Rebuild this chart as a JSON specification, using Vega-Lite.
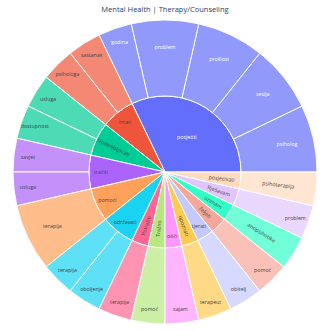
{
  "$schema": "https://vega.github.io/schema/vega-lite/v6.json",
  "width": 330,
  "height": 304,
  "autosize": {"type": "none"},
  "padding": {"left": 0, "right": 0, "top": 20, "bottom": 0},
  "background": "white",
  "config": {"view": {"stroke": null}, "text": {"font": "Open Sans"}},
  "title": {"text": "Mental Health | Therapy/Counseling", "font": "Open Sans", "fontSize": 7.5, "fontWeight": "normal", "color": "#2a3f5f", "offset": 5, "anchor": "middle", "frame": "group"},
  "data": {"values": [
    {"p": "posjetiti", "c": "psiholog", "v": 2},
    {"p": "posjetiti", "c": "sesija", "v": 2},
    {"p": "posjetiti", "c": "prošlost", "v": 2},
    {"p": "posjetiti", "c": "problem", "v": 2},
    {"p": "posjetiti", "c": "godina", "v": 1},
    {"p": "imati", "c": "sastanak", "v": 1},
    {"p": "imati", "c": "psihologa", "v": 1},
    {"p": "Upotrebljavati", "c": "usluga", "v": 1},
    {"p": "Upotrebljavati", "c": "dostupnost", "v": 1},
    {"p": "tražiti", "c": "savjet", "v": 1},
    {"p": "tražiti", "c": "usluga", "v": 1},
    {"p": "pomoći", "c": "terapija", "v": 2},
    {"p": "održavati", "c": "terapija", "v": 1},
    {"p": "održavati", "c": "oboljenje", "v": 1},
    {"p": "Potražiti", "c": "terapija", "v": 1},
    {"p": "Tražim", "c": "pomoć", "v": 1},
    {"p": "otići", "c": "sajam", "v": 1},
    {"p": "upoznati", "c": "terapeut", "v": 1},
    {"p": "tjerati", "c": "obitelj", "v": 1},
    {"p": "željeti", "c": "pomoć", "v": 1},
    {"p": "uzimam", "c": "antipsihotike", "v": 1},
    {"p": "Rješavam", "c": "problem", "v": 1},
    {"p": "posjećivati", "c": "psihoterapija", "v": 1}
  ]},
  "transform": [{"window": [{"op": "row_number", "as": "idx"}]}],
  "layer": [
    {
      "transform": [
        {"aggregate": [{"op": "sum", "field": "v", "as": "v"}, {"op": "min", "field": "idx", "as": "idx"}], "groupby": ["p"]},
        {"stack": "v", "groupby": [], "sort": [{"field": "idx", "order": "descending"}], "as": ["s0", "s1"]}
      ],
      "mark": {"type": "arc", "innerRadius": 0, "outerRadius": 76, "stroke": "white", "strokeWidth": 1},
      "encoding": {
        "theta": {"field": "s0", "type": "quantitative", "stack": null, "scale": {"domain": [0, 28], "nice": false, "zero": true, "range": [1.5707963, 7.8539816]}},
        "theta2": {"field": "s1"},
        "color": {"field": "p", "type": "nominal", "legend": null, "scale": {
          "domain": ["posjetiti", "imati", "Upotrebljavati", "tražiti", "pomoći", "održavati", "Potražiti", "Tražim", "otići", "upoznati", "tjerati", "željeti", "uzimam", "Rješavam", "posjećivati"],
          "range": ["#636efa", "#ef553b", "#00cc96", "#ab63fa", "#ffa15a", "#19d3f3", "#ff6692", "#b6e880", "#ff97ff", "#fecb52", "#c6c9fd", "#f7a799", "#33ffc9", "#e0c6fd", "#ffdbc0"]}}
      }
    },
    {
      "transform": [
        {"stack": "v", "groupby": [], "sort": [{"field": "idx", "order": "descending"}], "as": ["s0", "s1"]}
      ],
      "mark": {"type": "arc", "innerRadius": 76, "outerRadius": 152, "stroke": "white", "strokeWidth": 1, "fillOpacity": 0.7},
      "encoding": {
        "theta": {"field": "s0", "type": "quantitative", "stack": null},
        "theta2": {"field": "s1"},
        "color": {"field": "p", "type": "nominal", "legend": null}
      }
    },
    {
      "transform": [
        {"aggregate": [{"op": "sum", "field": "v", "as": "v"}, {"op": "min", "field": "idx", "as": "idx"}], "groupby": ["p"]},
        {"stack": "v", "groupby": [], "sort": [{"field": "idx", "order": "descending"}], "as": ["s0", "s1"]},
        {"calculate": "(datum.s0 + datum.s1) / 2", "as": "mid"},
        {"filter": {"field": "p", "oneOf": ["posjetiti"]}}
      ],
      "mark": {"type": "text", "radius": 41, "fontSize": 5.3, "align": "center", "baseline": "middle"},
      "encoding": {
        "theta": {"field": "mid", "type": "quantitative", "stack": null},
        "text": {"field": "p"},
        "color": {"value": "white"}
      }
    },
    {
      "transform": [
        {"aggregate": [{"op": "sum", "field": "v", "as": "v"}, {"op": "min", "field": "idx", "as": "idx"}], "groupby": ["p"]},
        {"stack": "v", "groupby": [], "sort": [{"field": "idx", "order": "descending"}], "as": ["s0", "s1"]},
        {"calculate": "(datum.s0 + datum.s1) / 2", "as": "mid"},
        {"filter": {"field": "p", "oneOf": ["imati", "tražiti", "pomoći", "održavati", "otići", "tjerati"]}}
      ],
      "mark": {"type": "text", "radius": 64, "fontSize": 5.3, "align": "center", "baseline": "middle"},
      "encoding": {
        "theta": {"field": "mid", "type": "quantitative", "stack": null},
        "text": {"field": "p"},
        "color": {"value": "#444444"}
      }
    },
    {
      "transform": [
        {"aggregate": [{"op": "sum", "field": "v", "as": "v"}, {"op": "min", "field": "idx", "as": "idx"}], "groupby": ["p"]},
        {"stack": "v", "groupby": [], "sort": [{"field": "idx", "order": "descending"}], "as": ["s0", "s1"]},
        {"calculate": "(datum.s0 + datum.s1) / 2", "as": "mid"},
        {"filter": {"field": "p", "oneOf": ["Upotrebljavati", "Potražiti", "Tražim", "upoznati", "željeti", "uzimam", "Rješavam", "posjećivati"]}},
        {"calculate": "360 * datum.mid / 28", "as": "a0"},
        {"calculate": "(datum.a0 > 90 && datum.a0 < 270) ? datum.a0 - 180 : datum.a0", "as": "ang"}
      ],
      "mark": {"type": "text", "radius": 57, "fontSize": 5.3, "align": "center", "baseline": "middle"},
      "encoding": {
        "theta": {"field": "mid", "type": "quantitative", "stack": null},
        "text": {"field": "p"},
        "angle": {"field": "ang", "type": "quantitative", "scale": null},
        "color": {"value": "#444444"}
      }
    },
    {
      "transform": [
        {"stack": "v", "groupby": [], "sort": [{"field": "idx", "order": "descending"}], "as": ["s0", "s1"]},
        {"calculate": "(datum.s0 + datum.s1) / 2", "as": "mid"},
        {"filter": "datum.v == 2"}
      ],
      "mark": {"type": "text", "radius": 125, "fontSize": 5.3, "align": "center", "baseline": "middle"},
      "encoding": {
        "theta": {"field": "mid", "type": "quantitative", "stack": null},
        "text": {"field": "c"},
        "color": {"condition": {"test": "datum.p == 'posjetiti'", "value": "white"}, "value": "#444444"}
      }
    },
    {
      "transform": [
        {"stack": "v", "groupby": [], "sort": [{"field": "idx", "order": "descending"}], "as": ["s0", "s1"]},
        {"calculate": "(datum.s0 + datum.s1) / 2", "as": "mid"},
        {"filter": "datum.v == 1 && datum.c != 'antipsihotike' && datum.c != 'psihoterapija'"}
      ],
      "mark": {"type": "text", "radius": 138, "fontSize": 5.3, "align": "center", "baseline": "middle"},
      "encoding": {
        "theta": {"field": "mid", "type": "quantitative", "stack": null},
        "text": {"field": "c"},
        "color": {"condition": {"test": "datum.p == 'posjetiti'", "value": "white"}, "value": "#444444"}
      }
    },
    {
      "transform": [
        {"stack": "v", "groupby": [], "sort": [{"field": "idx", "order": "descending"}], "as": ["s0", "s1"]},
        {"calculate": "(datum.s0 + datum.s1) / 2", "as": "mid"},
        {"filter": {"field": "c", "oneOf": ["antipsihotike", "psihoterapija"]}},
        {"calculate": "360 * datum.mid / 28", "as": "a0"},
        {"calculate": "(datum.a0 > 90 && datum.a0 < 270) ? datum.a0 - 180 : datum.a0", "as": "ang"}
      ],
      "mark": {"type": "text", "radius": 114, "fontSize": 5.3, "align": "center", "baseline": "middle"},
      "encoding": {
        "theta": {"field": "mid", "type": "quantitative", "stack": null},
        "text": {"field": "c"},
        "angle": {"field": "ang", "type": "quantitative", "scale": null},
        "color": {"value": "#444444"}
      }
    }
  ]
}
